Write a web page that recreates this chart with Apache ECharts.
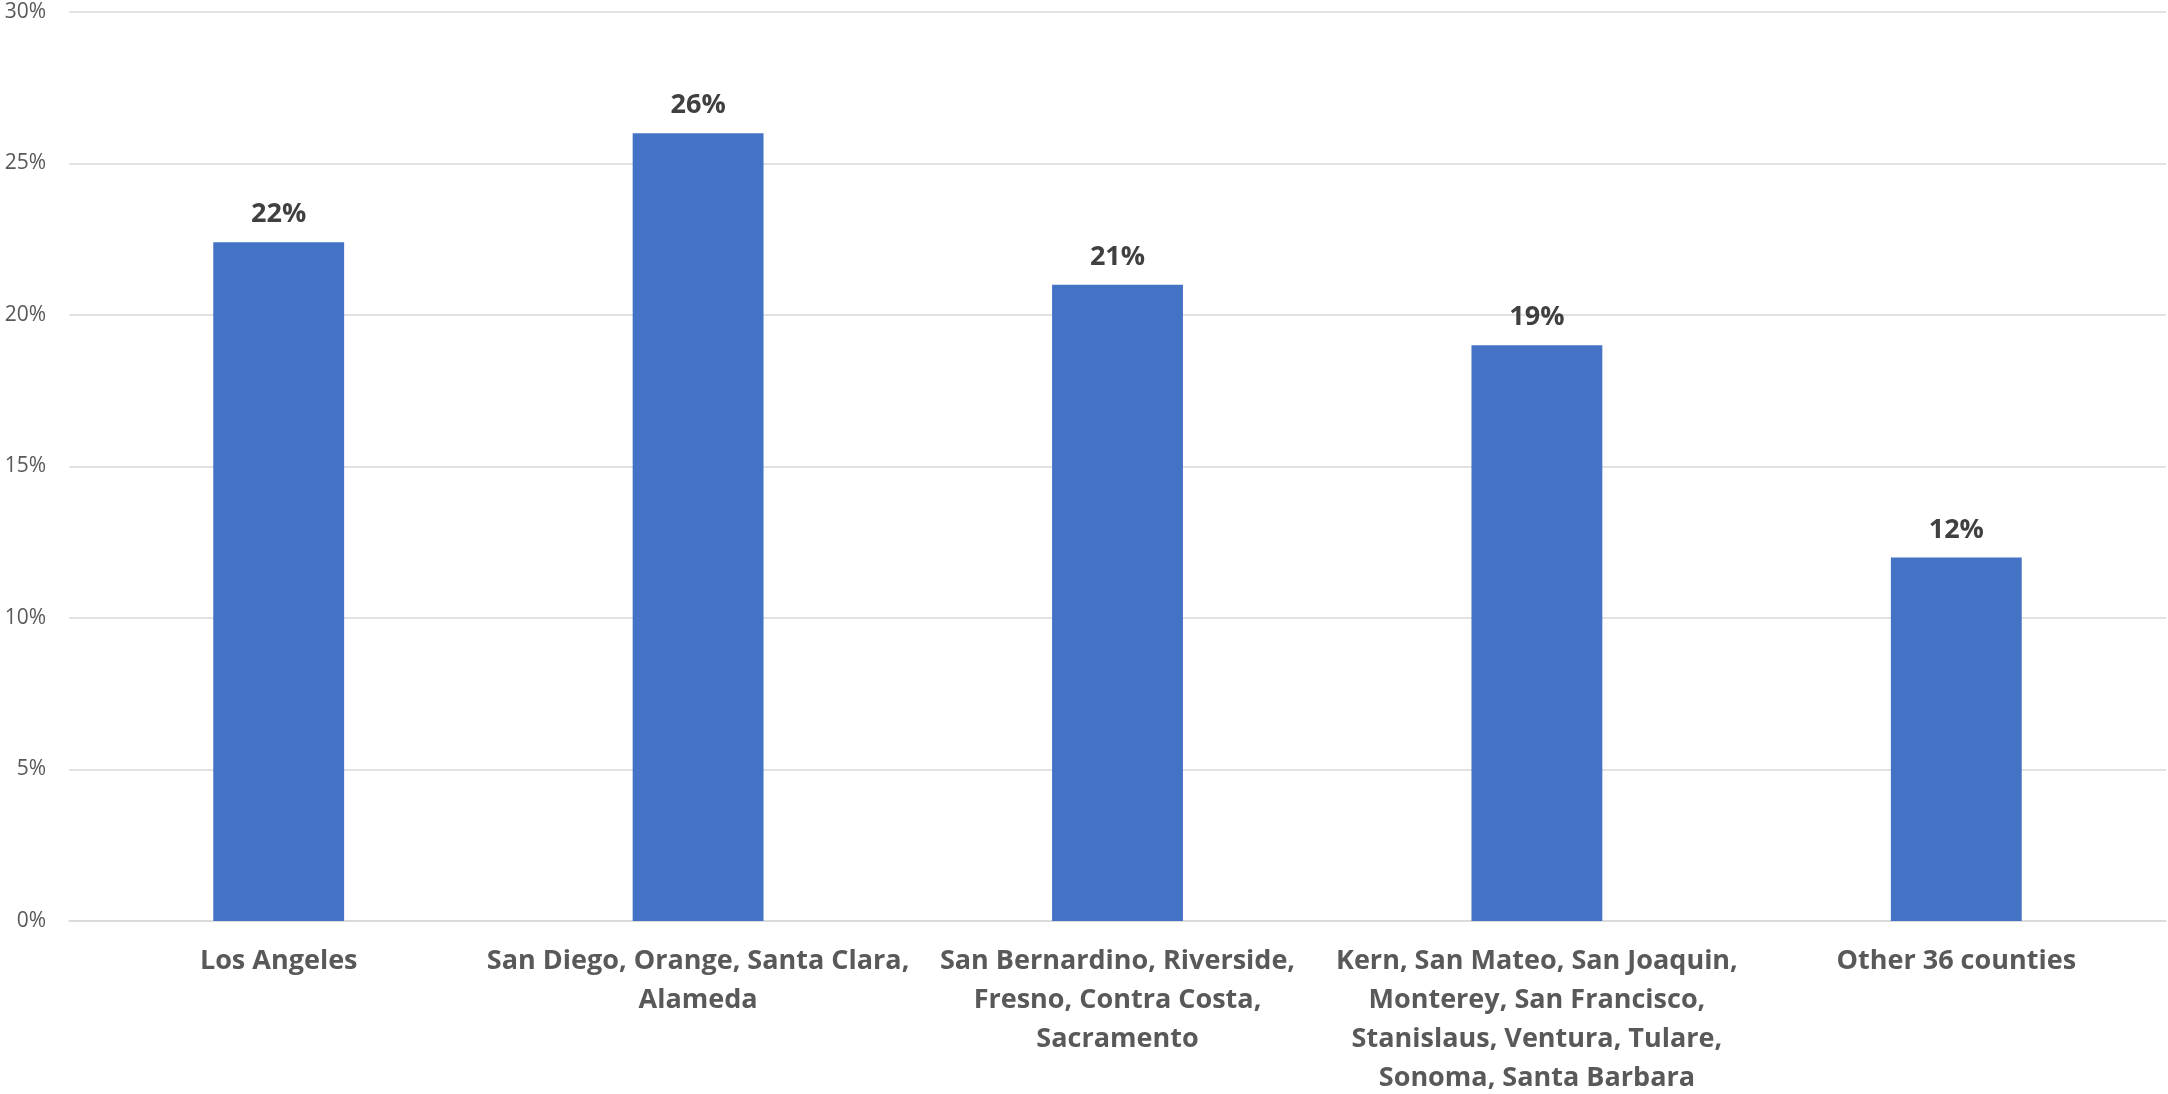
<!DOCTYPE html>
<html>
<head>
<meta charset="utf-8">
<script src="https://cdn.jsdelivr.net/npm/echarts@6/dist/echarts.min.js"></script>
<style>
html,body{margin:0;padding:0;background:#fff;}
#c{width:2168px;height:1094px;}
</style>
</head>
<body>
<div id="c"></div>
<script>
const categories = [
  "Los Angeles",
  "San Diego, Orange, Santa Clara,\nAlameda",
  "San Bernardino, Riverside,\nFresno, Contra Costa,\nSacramento",
  "Kern, San Mateo, San Joaquin,\nMonterey, San Francisco,\nStanislaus, Ventura, Tulare,\nSonoma, Santa Barbara",
  "Other 36 counties"
];
const shares = [22.4, 26.0, 21.0, 19.0, 12.0];

const chart = echarts.init(document.getElementById('c'), null, {renderer: 'canvas'});
chart.setOption({
  animation: false,
  backgroundColor: '#ffffff',
  grid: {left: 69, right: 2, top: 12, bottom: 173, containLabel: false, outerBoundsMode: 'none'},
  xAxis: {
    type: 'category',
    data: categories,
    axisLine: {show: true, lineStyle: {color: '#D9D9D9', width: 1.5}},
    axisTick: {show: false},
    axisLabel: {
      interval: 0,
      margin: 21,
      color: '#595959',
      fontFamily: 'Open Sans',
      fontWeight: 'bold',
      fontSize: 27,
      lineHeight: 39,
      align: 'center'
    }
  },
  yAxis: {
    type: 'value',
    min: 0, max: 30, interval: 5,
    axisLine: {show: false},
    axisTick: {show: false},
    splitLine: {lineStyle: {color: '#D9D9D9', width: 1.5}},
    axisLabel: {
      formatter: '{value}%',
      color: '#595959',
      fontFamily: 'Open Sans',
      fontSize: 21,
      margin: 23
    }
  },
  series: [{
    type: 'bar',
    data: shares,
    barWidth: '31.2%',
    itemStyle: {color: '#4472C4'},
    label: {
      show: true,
      position: 'top',
      distance: 14,
      formatter: p => Math.round(p.value) + '%',
      color: '#404040',
      fontFamily: 'Open Sans',
      fontWeight: 'bold',
      fontSize: 27
    }
  }]
});
</script>
</body>
</html>
